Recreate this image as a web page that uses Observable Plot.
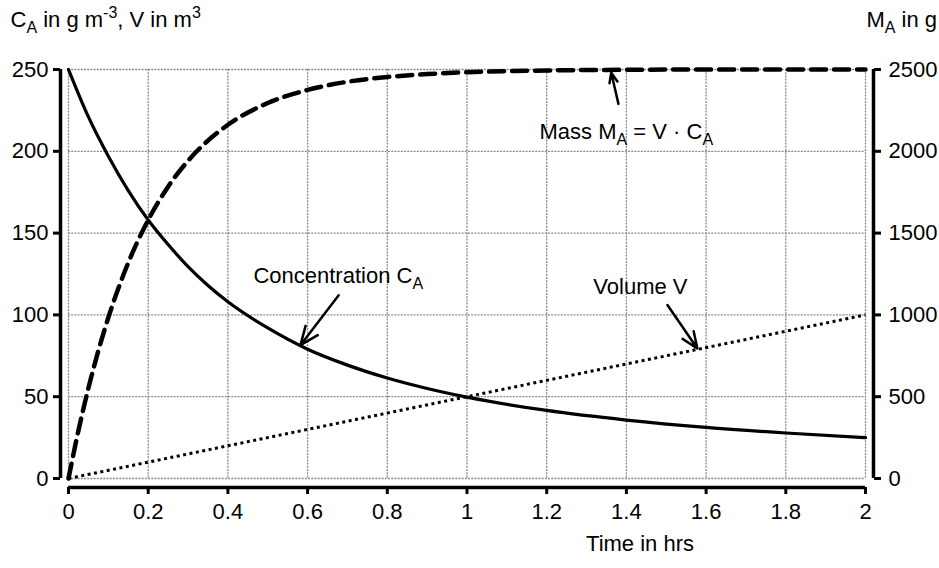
<!DOCTYPE html>
<html>
<head>
<meta charset="utf-8">
<script src="https://cdn.jsdelivr.net/npm/d3@7"></script>
<script src="https://cdn.jsdelivr.net/npm/@observablehq/plot@0.6"></script>
<style>
  html, body { margin: 0; padding: 0; background: #fff; }
</style>
</head>
<body>
<div id="chart"></div>
<script>
// ---- data ----
const concTimes = [0, 0.05, 0.1, 0.15, 0.2, 0.25, 0.3, 0.35, 0.4, 0.5, 0.6, 0.7, 0.8, 0.9, 1.0, 1.2, 1.4, 1.6, 1.8, 2.0];
const concentration = [250, 221, 197, 176, 158, 143, 129.5, 118, 108, 92, 79, 69.3, 61.4, 55, 49.7, 41.6, 35.7, 31.2, 27.8, 25];

const massTimes = [0, 0.025, 0.05, 0.075, 0.1, 0.15, 0.2, 0.25, 0.3, 0.4, 0.5, 0.6, 0.7, 0.8, 0.9, 1.0, 1.2, 1.4, 1.6, 1.8, 2.0];
const mass = [0, 294, 553, 782, 984, 1319, 1580, 1784, 1942, 2162, 2295, 2375, 2425, 2454, 2472, 2483, 2494, 2498, 2500, 2500, 2500];

const volTimes = [0, 0.5, 1, 1.5, 2];
const volume = [0, 25, 50, 75, 100];

const xTicks = [0, 0.2, 0.4, 0.6, 0.8, 1, 1.2, 1.4, 1.6, 1.8, 2];
const yTicks = [0, 50, 100, 150, 200, 250];

// annotation labels and arrows (data coordinates)
const labels = [
  {t: 1.182, y: 212, text: "Mass MA = V · CA"},
  {t: 0.464, y: 124, text: "Concentration CA"},
  {t: 1.317, y: 117, text: "Volume V"}
];
const arrows = [
  {t1: 1.380, y1: 229, t2: 1.362, y2: 248},
  {t1: 0.678, y1: 112, t2: 0.582, y2: 81.5},
  {t1: 1.503, y1: 106, t2: 1.578, y2: 79.5}
];

const concData = concTimes.map((t, i) => ({t, v: concentration[i]}));
const massData = massTimes.map((t, i) => ({t, m: mass[i]}));
const volData = volTimes.map((t, i) => ({t, v: volume[i]}));

const FONT = "'Liberation Sans', Arial, sans-serif";

const chart = Plot.plot({
  width: 939,
  height: 568,
  marginLeft: 68,
  marginRight: 74,
  marginTop: 69,
  marginBottom: 90,
  style: {fontFamily: FONT, fontSize: "22px", color: "#000", background: "#fff"},
  x: {domain: [0, 2]},
  y: {domain: [0, 250]},
  marks: [
    Plot.gridX(xTicks, {stroke: "#888", strokeOpacity: 1, strokeWidth: 1.3, strokeDasharray: "2,1.2"}),
    Plot.gridY(yTicks, {stroke: "#888", strokeOpacity: 1, strokeWidth: 1.3, strokeDasharray: "2,1.2"}),
    Plot.line(volData, {x: "t", y: "v", stroke: "#000", strokeWidth: 3, strokeDasharray: "3,3.5", strokeLinecap: "butt"}),
    Plot.line(massData, {x: "t", y: d => d.m / 10, stroke: "#000", strokeWidth: 4.5, strokeDasharray: "15,8", curve: "monotone-x"}),
    Plot.line(concData, {x: "t", y: "v", stroke: "#000", strokeWidth: 3.2, curve: "monotone-x"}),
    // axis lines offset from the frame
    Plot.ruleX([0], {dx: -8, stroke: "#000", strokeWidth: 3.5}),
    Plot.ruleX([2], {dx: 8, stroke: "#000", strokeWidth: 3.5}),
    Plot.ruleY([0], {dy: 9, stroke: "#000", strokeWidth: 3.5}),
    Plot.axisY(yTicks, {anchor: "left", dx: -8, tickSize: 7, tickPadding: 5, strokeWidth: 3, label: null, tickFormat: d => String(d)}),
    Plot.axisY(yTicks, {anchor: "right", dx: 8, tickSize: 7, tickPadding: 8, strokeWidth: 3, label: null, tickFormat: d => String(d * 10)}),
    Plot.axisX(xTicks, {anchor: "bottom", dy: 9, tickSize: 7, tickPadding: 9, strokeWidth: 3, label: null, tickFormat: d => String(d)}),
    // titles
    Plot.text(["CA in g m-3, V in m3"], {frameAnchor: "top-left", textAnchor: "start", lineAnchor: "middle", dx: -58, dy: -50, fill: "#000"}),
    Plot.text(["MA in g"], {frameAnchor: "top-right", textAnchor: "start", lineAnchor: "middle", dx: 1, dy: -50, fill: "#000"}),
    Plot.text(["Time in hrs"], {frameAnchor: "bottom", textAnchor: "middle", lineAnchor: "middle", dx: 173, dy: 65, fill: "#000"}),
    // annotations
    Plot.text(labels, {x: "t", y: "y", text: "text", textAnchor: "start", lineAnchor: "middle", fill: "#000"}),
    Plot.arrow(arrows, {x1: "t1", y1: "y1", x2: "t2", y2: "y2", stroke: "#000", strokeWidth: 2.5, headLength: 12, headAngle: 45})
  ]
});

// sub/superscripts as real tspans
const rich = {
  "CA in g m-3, V in m3": [["C"], ["A", "sub"], [" in g m"], ["-3", "sup"], [", V in m"], ["3", "sup"]],
  "MA in g": [["M"], ["A", "sub"], [" in g"]],
  "Mass MA = V · CA": [["Mass M"], ["A", "sub"], [" = V · C"], ["A", "sub"]],
  "Concentration CA": [["Concentration C"], ["A", "sub"]]
};
const NS = "http://www.w3.org/2000/svg";
chart.querySelectorAll("text").forEach(t => {
  const parts = rich[t.textContent];
  if (!parts) return;
  t.textContent = "";
  let shift = 0;
  parts.forEach(([s, k]) => {
    const ts = document.createElementNS(NS, "tspan");
    ts.textContent = s;
    const target = k === "sub" ? 6 : k === "sup" ? -9 : 0;
    ts.setAttribute("dy", String(target - shift));
    shift = target;
    if (k) ts.setAttribute("font-size", "16px");
    t.appendChild(ts);
  });
});

document.getElementById("chart").appendChild(chart);
</script>
</body>
</html>
